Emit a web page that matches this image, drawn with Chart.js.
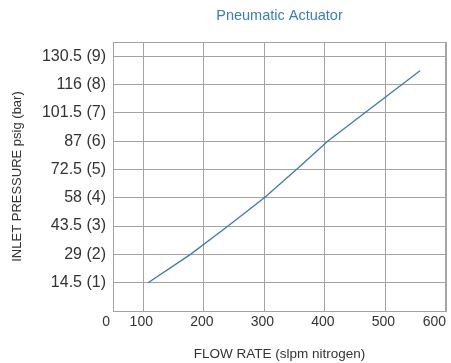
<!DOCTYPE html>
<html>
<head>
<meta charset="utf-8">
<script src="https://cdn.jsdelivr.net/npm/chart.js@4"></script>
<style>
  html, body { margin: 0; padding: 0; background: #fff; }
  #wrap { width: 451px; height: 363px; }
</style>
</head>
<body>
<div id="wrap"><canvas id="flowChart"></canvas></div>
<script>
// flow rate vs inlet pressure
const flowRates = [108, 178, 240, 300, 353, 405, 557];
const pressures = [14.5, 29, 43.5, 58, 72.5, 87, 123];

// axis ticks
const yTickValues = [14.5, 29, 43.5, 58, 72.5, 87, 101.5, 116, 130.5];
const yTickLabels = ['14.5 (1)', '29 (2)', '43.5 (3)', '58 (4)', '72.5 (5)', '87 (6)', '101.5 (7)', '116 (8)', '130.5 (9)'];
const xTickValues = [50, 100, 200, 300, 400, 500, 600];
const xTickLabels = ['0', '100', '200', '300', '400', '500', '600'];

const Y_MIN = 0, Y_MAX = 137.75;
const X_MIN = 50, X_MAX = 600;

const gridColor = '#a3a3a3';
const textColor = '#333';

// x labels drawn by hand so the "0" can sit left of the axis like the original
const xLabelPlugin = {
    id: 'xLabels',
    afterDraw(chart) {
        const ctx = chart.ctx;
        const xs = chart.scales.x;
        ctx.save();
        ctx.font = '14px "Liberation Sans", Arial, sans-serif';
        ctx.fillStyle = textColor;
        ctx.textBaseline = 'middle';
        xTickValues.forEach((v, i) => {
            const px = xs.getPixelForValue(v);
            if (i === 0) {
                ctx.textAlign = 'right';
                ctx.fillText(xTickLabels[i], px - 3, chart.chartArea.bottom + 11);
            } else if (i === xTickValues.length - 1) {
                ctx.textAlign = 'right';
                ctx.fillText(xTickLabels[i], px, chart.chartArea.bottom + 11);
            } else {
                ctx.textAlign = 'center';
                ctx.fillText(xTickLabels[i], px - 2, chart.chartArea.bottom + 11);
            }
        });
        ctx.restore();
    }
};

const ctx = document.getElementById('flowChart').getContext('2d');
new Chart(ctx, {
    type: 'line',
    data: {
        datasets: [{
            data: flowRates.map((f, i) => ({ x: f, y: pressures[i] })),
            borderColor: '#3b78bb',
            borderWidth: 1.3,
            pointRadius: 0,
            tension: 0,
            fill: false
        }]
    },
    options: {
        responsive: true,
        maintainAspectRatio: false,
        animation: false,
        layout: { padding: { left: 0, right: 5, top: 0, bottom: 0 } },
        plugins: {
            legend: { display: false },
            tooltip: { enabled: false },
            title: {
                display: true,
                text: 'Pneumatic Actuator',
                color: '#3a7cc0',
                fullSize: false,
                font: { family: '"Liberation Sans", Arial, sans-serif', size: 14.5, weight: 'normal' },
                padding: { top: 7, bottom: 17.6 }
            }
        },
        scales: {
            x: {
                type: 'linear',
                min: X_MIN,
                max: X_MAX,
                afterBuildTicks: s => { s.ticks = xTickValues.map(v => ({ value: v })); },
                afterFit: s => { s.height = 52; },
                ticks: { display: false },
                grid: { color: gridColor, drawTicks: false },
                border: { color: gridColor },
                title: {
                    display: true,
                    text: 'FLOW RATE (slpm nitrogen)',
                    color: textColor,
                    font: { family: '"Liberation Sans", Arial, sans-serif', size: 13.5 },
                    padding: { top: 0, bottom: 1 }
                }
            },
            y: {
                type: 'linear',
                min: Y_MIN,
                max: Y_MAX,
                afterBuildTicks: s => {
                    s.ticks = [Y_MIN, ...yTickValues, Y_MAX].map(v => ({ value: v }));
                },
                afterFit: s => { s.width = 113; },
                ticks: {
                    color: textColor,
                    padding: 7,
                    font: { family: '"Liberation Sans", Arial, sans-serif', size: 16 },
                    callback: function(value) {
                        const idx = yTickValues.indexOf(value);
                        return idx >= 0 ? yTickLabels[idx] : '';
                    }
                },
                grid: { color: gridColor, drawTicks: false },
                border: { color: gridColor },
                title: {
                    display: true,
                    text: 'INLET PRESSURE psig (bar)',
                    color: textColor,
                    font: { family: '"Liberation Sans", Arial, sans-serif', size: 13 },
                    padding: { top: 10, bottom: 0 }
                }
            }
        }
    },
    plugins: [xLabelPlugin, {
        // close the box on the top and right
        id: 'frame',
        afterDraw(chart) {
            const a = chart.chartArea;
            const c = chart.ctx;
            c.save();
            c.strokeStyle = gridColor;
            c.lineWidth = 1;
            c.beginPath();
            c.moveTo(Math.round(a.left) + 0.5, Math.round(a.top) + 0.5);
            c.lineTo(Math.round(a.right) - 0.5, Math.round(a.top) + 0.5);
            c.lineTo(Math.round(a.right) - 0.5, Math.round(a.bottom) + 0.5);
            c.stroke();
            c.restore();
        }
    }]
});
</script>
</body>
</html>
